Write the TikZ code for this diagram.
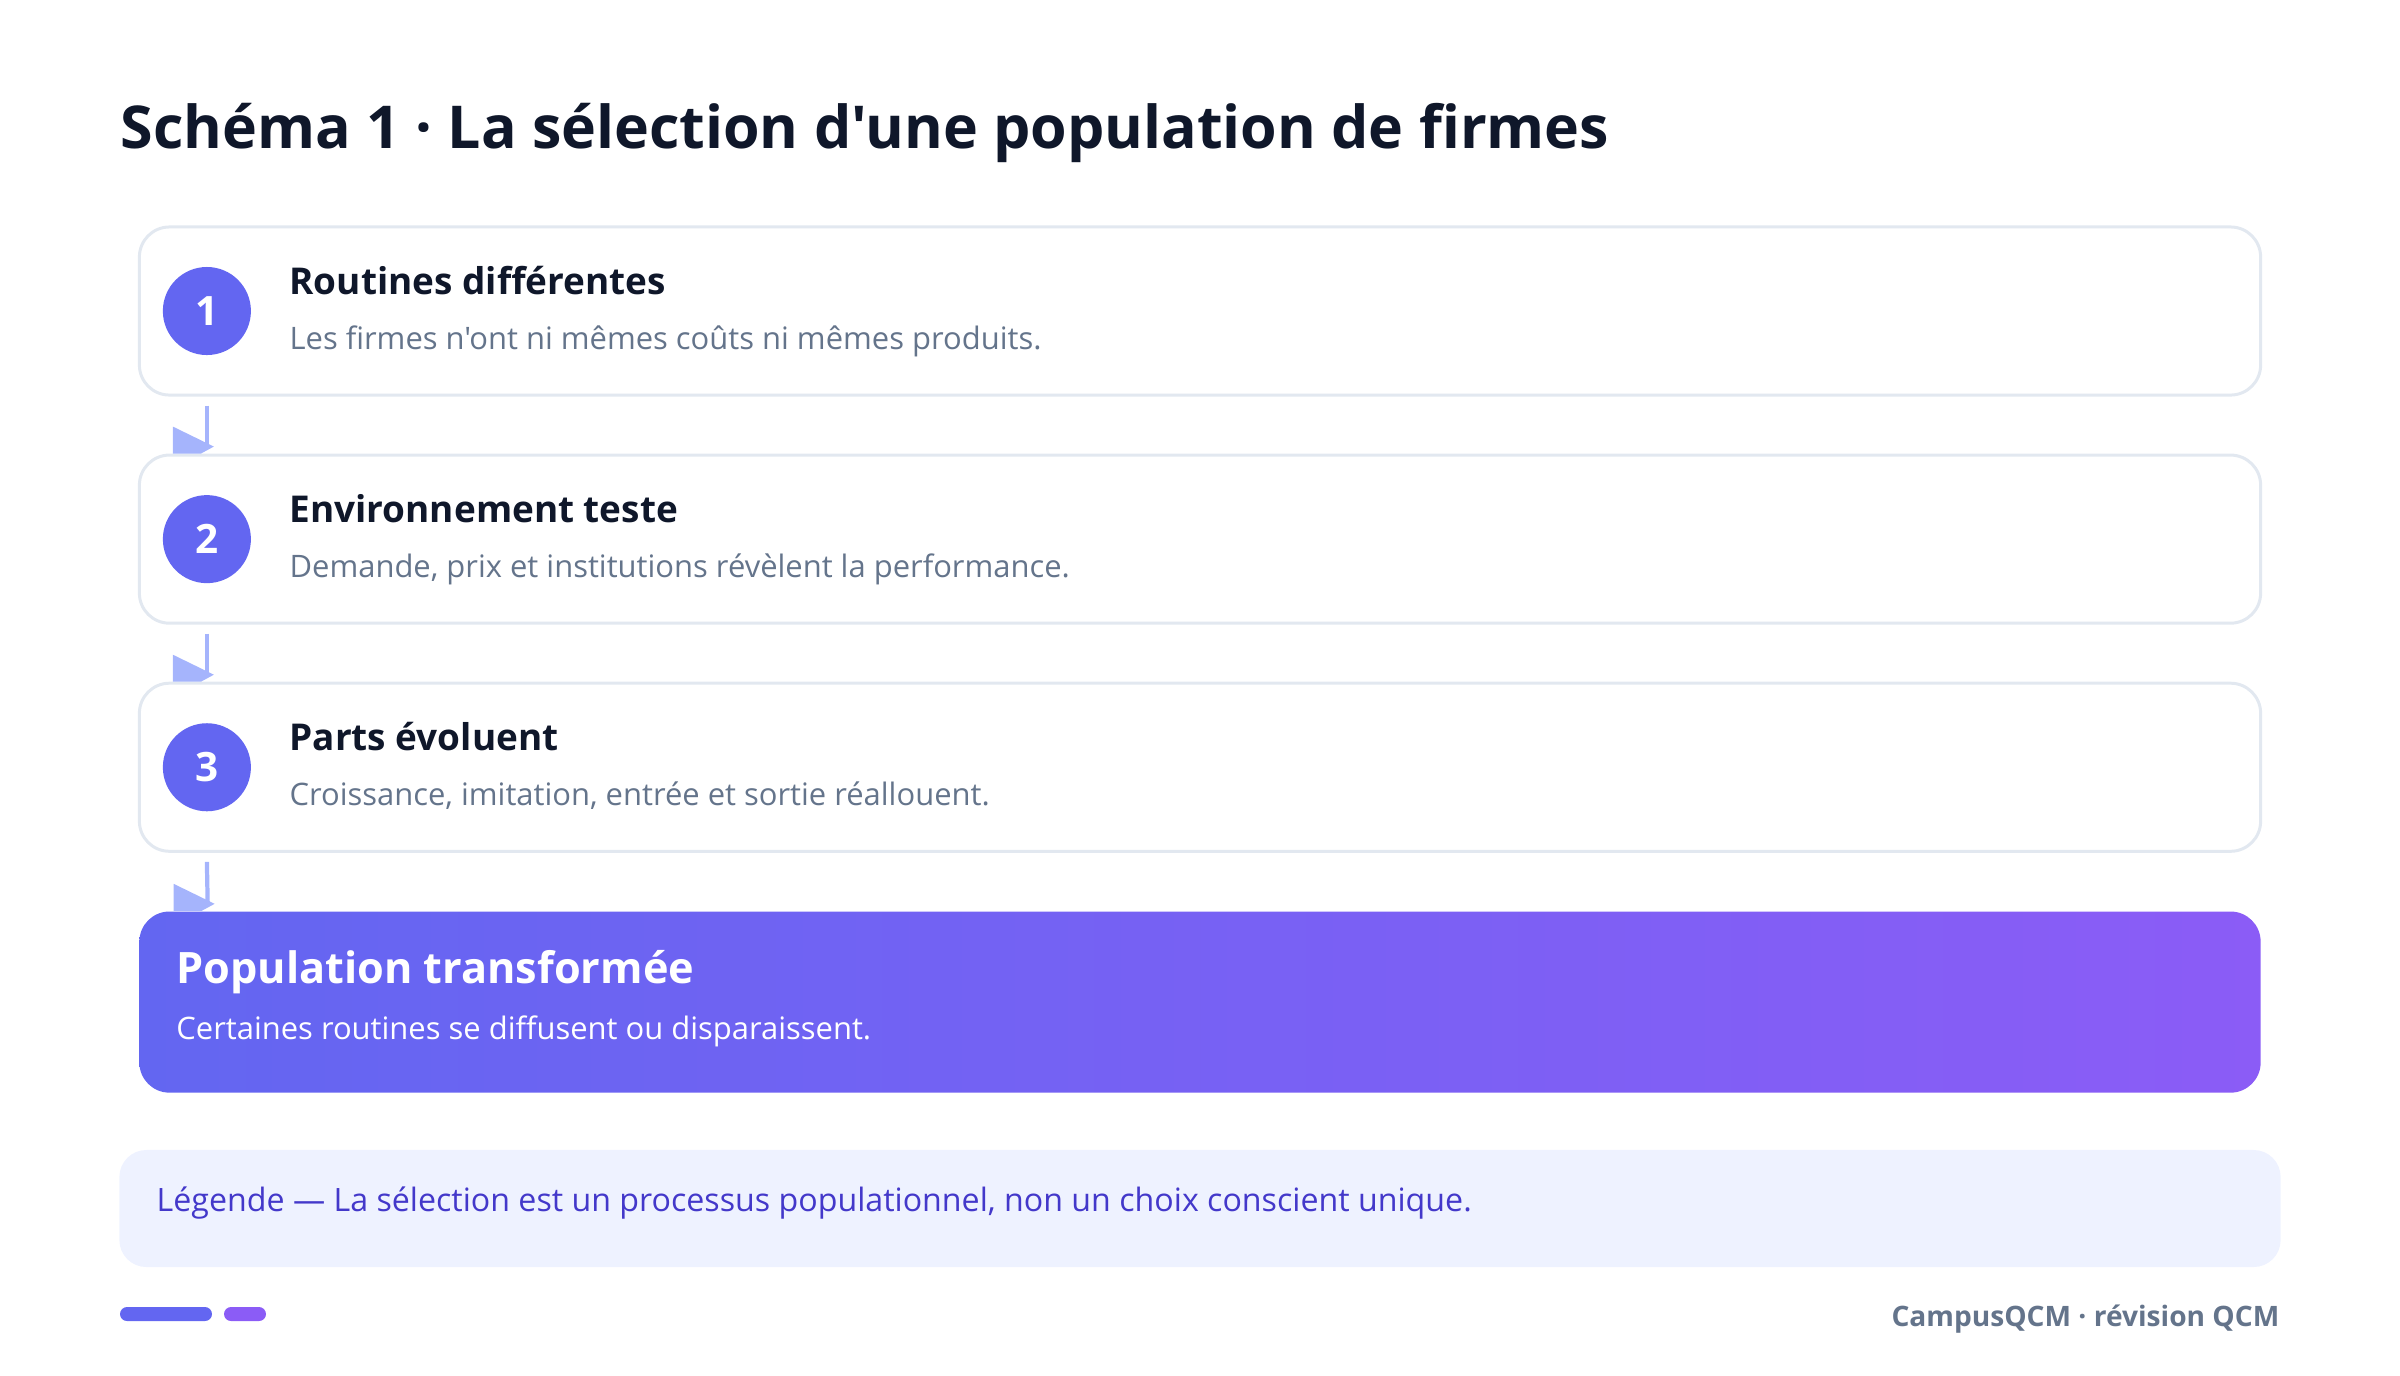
\documentclass[tikz,border=0pt]{standalone}
\usepackage{fontspec}
\newfontfamily\uifont{Open Sans}
\usetikzlibrary{positioning,calc}
\definecolor{ink}{HTML}{0F172A}
\definecolor{muted}{HTML}{64748B}
\definecolor{cardline}{HTML}{E2E8F0}
\definecolor{indigo}{HTML}{6366F1}
\definecolor{violet}{HTML}{8B5CF6}
\definecolor{flowtip}{HTML}{A5B4FC}
\definecolor{notefill}{HTML}{EEF2FF}
\definecolor{noteink}{HTML}{4338CA}

\begin{document}
\uifont
\begin{tikzpicture}[x=0.01cm,y=-0.01cm,
  stepcard/.style={draw=cardline, line width=0.85pt, fill=white, rounded corners=0.3cm,
    minimum width=21.2cm, minimum height=1.68cm, inner sep=0pt},
  endcard/.style={left color=indigo, right color=violet, rounded corners=0.3cm,
    minimum width=21.2cm, minimum height=1.81cm, inner sep=0pt},
  numdot/.style={circle, fill=indigo, text=white, minimum size=0.88cm, inner sep=0pt,
    font=\uifont\fontsize{11.5}{13}\selectfont\bfseries},
  cardhead/.style={anchor=base west, inner sep=0pt, text=ink, font=\uifont\fontsize{10.5}{12}\selectfont\bfseries},
  cardtext/.style={anchor=base west, inner sep=0pt, text=muted, font=\uifont\fontsize{8.8}{11}\selectfont},
  flowline/.style={draw=flowtip, line width=1.2pt}]
\useasboundingbox (0,0) rectangle (2400,1375);

% title
\node[anchor=base west, inner sep=0pt, text=ink, font=\uifont\fontsize{16.8}{20}\selectfont\bfseries]
  (title) at (120,148) {Schéma 1 · La sélection d'une population de firmes};

% steps
\node[stepcard] (card1) at (1200,311) {};
\node[stepcard, below=0.57cm of card1] (card2) {};
\node[stepcard, below=0.57cm of card2] (card3) {};
\node[endcard, below=0.58cm of card3] (card4) {};

\node[numdot] (dot1) at ($(card1.west)+(69,0)$) {1};
\node[numdot] (dot2) at ($(card2.west)+(69,0)$) {2};
\node[numdot] (dot3) at ($(card3.west)+(69,0)$) {3};

\node[cardhead] (head1) at ($(card1.north west)+(151,69)$) {Routines différentes};
\node[cardtext] (text1) at ($(card1.north west)+(151,124)$) {Les firmes n'ont ni mêmes coûts ni mêmes produits.};
\node[cardhead] (head2) at ($(card2.north west)+(151,69)$) {Environnement teste};
\node[cardtext] (text2) at ($(card2.north west)+(151,124)$) {Demande, prix et institutions révèlent la performance.};
\node[cardhead] (head3) at ($(card3.north west)+(151,69)$) {Parts évoluent};
\node[cardtext] (text3) at ($(card3.north west)+(151,124)$) {Croissance, imitation, entrée et sortie réallouent.};

\node[cardhead, text=white, font=\uifont\fontsize{12.3}{14}\selectfont\bfseries] (head4)
  at ($(card4.north west)+(37,73)$) {Population transformée};
\node[cardtext, text=white] (text4)
  at ($(card4.north west)+(37,129)$) {Certaines routines se diffusent ou disparaissent.};

% connectors
\foreach \a/\b in {card1/card2, card2/card3, card3/card4}{
  \coordinate (from) at ($(\a.south west)+(69,9)$);
  \coordinate (to) at ($(\b.north west)+(69,0)$);
  \draw[flowline] (from) -- ($(to)+(0,-7)$);
  \fill[flowtip] ($(to)+(-34,-27)$) -- ($(to)+(7,-7)$) -- ($(to)+(-6,0)$) -- ($(to)+(-34,0)$) -- cycle;
}

% legend
\node[fill=notefill, rounded corners=0.27cm, minimum width=21.6cm, minimum height=1.17cm,
  inner sep=0pt] (legend) at (1200,1208.5) {};
\node[anchor=base west, inner sep=0pt, text=noteink, font=\uifont\fontsize{9.15}{12}\selectfont]
  (legendtext) at (156,1211) {Légende — La sélection est un processus populationnel, non un choix conscient unique.};

% footer
\fill[indigo, rounded corners=0.07cm] (120,1307) rectangle (212,1321);
\fill[violet, rounded corners=0.07cm] (224,1307) rectangle (266,1321);
\node[anchor=base east, inner sep=0pt, text=muted, font=\uifont\fontsize{8}{10}\selectfont\bfseries]
  (brand) at (2280,1326) {CampusQCM · révision QCM};
\end{tikzpicture}
\end{document}
